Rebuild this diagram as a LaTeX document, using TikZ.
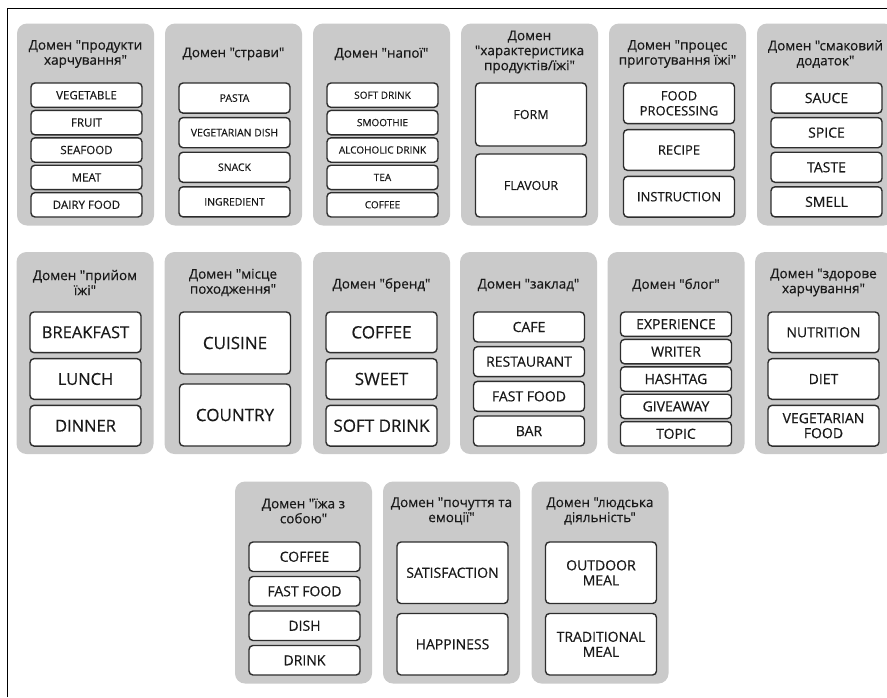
\documentclass[tikz,border=0pt]{standalone}
\usepackage{fontspec}
\setmainfont{Open Sans}[Ligatures=TeXOff, FakeBold=0.4]
\definecolor{panelgray}{RGB}{202,202,202}
\definecolor{boxline}{RGB}{45,45,45}
\definecolor{txt}{RGB}{25,25,25}

\begin{document}
\begin{tikzpicture}[x=1pt, y=-1pt, every node/.style={inner sep=0pt, text=txt},%
        dom/.style={fill=panelgray, rounded corners=10pt, minimum width=137pt, minimum height=202pt},
        domtitle/.style={align=center, font=\fontsize{13.5}{15}\selectfont},
        term/.style={draw=boxline, line width=1.4pt, fill=white, rounded corners=4pt, minimum width=111pt, align=center, font=\fontsize{#1}{15}\selectfont}]
    \useasboundingbox (0,0) rectangle (887,697);
    \draw[line width=1.2pt] (7.5,697) -- (7.5,8.5) -- (887,8.5);
    % row 1
    \node[dom] (prod) at (85.5,124.5) {};
    \node[domtitle] (prodt) at (85.5,54) {Домен "продукти\\харчування"};
    \foreach \w [count=\i from 0] in {VEGETABLE,FRUIT,SEAFOOD,MEAT,DAIRY FOOD}
        \node[term=11.5, minimum height=24.4pt] (prod\i) at (86.5,{95.2+27.4*\i}) {\w};
    \node[dom] (strav) at (233.5,124.5) {};
    \node[domtitle] (stravt) at (233.5,54) {Домен "страви"};
    \foreach \w [count=\i from 0] in {PASTA,VEGETARIAN DISH,SNACK,INGREDIENT}
        \node[term=10.4, minimum height=30.1pt] (strav\i) at (234.5,{98.05+34.6*\i}) {\w};
    \node[dom] (napoi) at (381.5,124.5) {};
    \node[domtitle] (napoit) at (381.5,54) {Домен "напої"};
    \foreach \w [count=\i from 0] in {SOFT DRINK,SMOOTHIE,ALCOHOLIC DRINK,TEA,COFFEE}
        \node[term=10, minimum height=24.4pt] (napoi\i) at (382.5,{95.2+27.4*\i}) {\w};
    \node[dom] (khar) at (529.5,124.5) {};
    \node[domtitle] (khart) at (529.5,52) {Домен\\"характеристика\\продуктів/їжі"};
    \foreach \w [count=\i from 0] in {FORM,FLAVOUR}
        \node[term=12.5, minimum height=63pt] (khar\i) at (531,{114.5+71*\i}) {\w};
    \node[dom] (proc) at (677.5,124.5) {};
    \node[domtitle] (proct) at (677.5,54) {Домен "процес\\приготування їжі"};
    \foreach \w [count=\i from 0] in {{FOOD\\PROCESSING},RECIPE,INSTRUCTION}
        \node[term=13, minimum height=40.7pt] (proc\i) at (679,{103.3+46.7*\i}) {\w};
    \node[dom] (smak) at (825.5,124.5) {};
    \node[domtitle] (smakt) at (825.5,54) {Домен "смаковий\\додаток"};
    \foreach \w [count=\i from 0] in {SAUCE,SPICE,TASTE,SMELL}
        \node[term=14, minimum height=30.1pt] (smak\i) at (826.5,{98.05+34.6*\i}) {\w};
    % row 2
    \node[dom] (pryiom) at (85,353) {};
    \node[domtitle] (pryiomt) at (85,282.5) {Домен "прийом\\їжі"};
    \foreach \w [count=\i from 0] in {BREAKFAST,LUNCH,DINNER}
        \node[term=16.5, minimum height=40.7pt] (pryiom\i) at (85.5,{332.3+46.7*\i}) {\w};
    \node[dom] (mistse) at (233,353) {};
    \node[domtitle] (mistset) at (233,282.5) {Домен "місце\\походження"};
    \foreach \w [count=\i from 0] in {CUISINE,COUNTRY}
        \node[term=17, minimum height=62pt] (mistse\i) at (235,{343+72*\i}) {\w};
    \node[dom] (brend) at (381.5,353) {};
    \node[domtitle] (brendt) at (381.5,285) {Домен "бренд"};
    \foreach \w [count=\i from 0] in {COFFEE,SWEET,SOFT DRINK}
        \node[term=17, minimum height=40.7pt] (brend\i) at (381.5,{332.3+46.7*\i}) {\w};
    \node[dom] (zaklad) at (528.5,353) {};
    \node[domtitle] (zakladt) at (528.5,285) {Домен "заклад"};
    \foreach \w [count=\i from 0] in {CAFE,RESTAURANT,FAST FOOD,BAR}
        \node[term=14, minimum height=30pt] (zaklad\i) at (529,{327+34.67*\i}) {\w};
    \node[dom] (blog) at (676,353) {};
    \node[domtitle] (blogt) at (676,285) {Домен "блог"};
    \foreach \w [count=\i from 0] in {EXPERIENCE,WRITER,HASHTAG,GIVEAWAY,TOPIC}
        \node[term=14, minimum height=24.4pt] (blog\i) at (676,{324.2+27.4*\i}) {\w};
    \node[dom] (zdor) at (823.5,353) {};
    \node[domtitle] (zdort) at (823.5,282.5) {Домен "здорове\\харчування"};
    \foreach \w [count=\i from 0] in {NUTRITION,DIET,{VEGETARIAN\\FOOD}}
        \node[term=14, minimum height=40.7pt] (zdor\i) at (823.5,{332.3+46.7*\i}) {\w};
    % row 3
    \node[dom] (sobou) at (303.5,582.5) {};
    \node[domtitle] (sobout) at (303.5,511) {Домен "їжа з\\собою"};
    \foreach \w [count=\i from 0] in {COFFEE,FAST FOOD,DISH,DRINK}
        \node[term=14, minimum height=29.5pt] (sobou\i) at (304.5,{556.75+34.5*\i}) {\w};
    \node[dom] (emoc) at (451.5,582.5) {};
    \node[domtitle] (emoct) at (451.5,511) {Домен "почуття та\\емоції"};
    \foreach \w [count=\i from 0] in {SATISFACTION,HAPPINESS}
        \node[term=14, minimum height=61.5pt] (emoc\i) at (452.5,{572.75+71.5*\i}) {\w};
    \node[dom] (diial) at (600,582.5) {};
    \node[domtitle] (diialt) at (600,511) {Домен "людська\\діяльність"};
    \foreach \w [count=\i from 0] in {{OUTDOOR\\MEAL},{TRADITIONAL\\MEAL}}
        \node[term=14, minimum height=61.5pt] (diial\i) at (601,{572.75+71.5*\i}) {\w};
\end{tikzpicture}
\end{document}
